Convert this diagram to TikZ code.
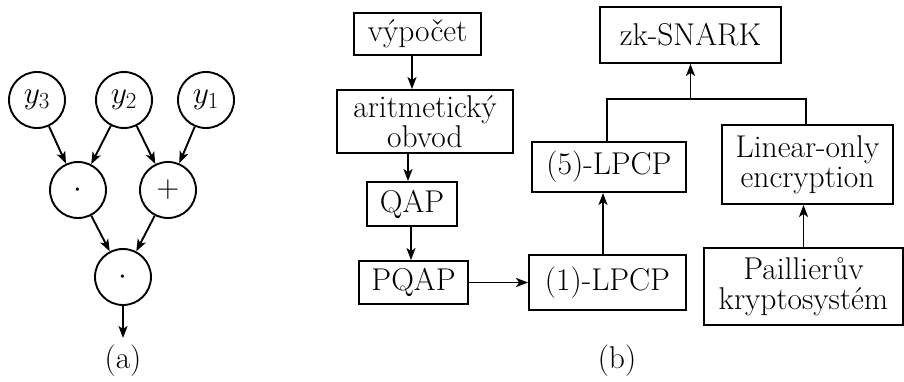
\RequirePackage{fix-cm}
\documentclass[tikz,border=0pt]{standalone}
\usetikzlibrary{arrows.meta}
\DeclareMathSizes{31.5}{31.5}{23}{17}
\begin{document}
\begin{tikzpicture}[x=1pt,y=-1pt,line width=1.9pt,
  every node/.style={font=\fontsize{31.5}{30}\selectfont},
  circ/.style={draw,circle,minimum size=56pt,inner sep=0pt},
  box/.style={draw,rectangle,inner sep=0pt,align=center},
  arr/.style={-{Stealth[length=12pt,width=9pt,inset=3pt]}}]
\useasboundingbox (0,0) rectangle (904,381);
% (a)
\node[circ] (y3) at (37,100) {$y_3$};
\node[circ] (y2) at (124,100) {$y_2$};
\node[circ] (y1) at (206,100) {$y_1$};
\node[circ] (m1) at (78,190) {$\cdot$};
\node[circ] (p) at (168,190) {$+$};
\node[circ] (m2) at (123,277) {$\cdot$};
\coordinate (out) at (123,338);
\draw[arr] (y3) -- (m1);
\draw[arr] (y2) -- (m1);
\draw[arr] (y2) -- (p);
\draw[arr] (y1) -- (p);
\draw[arr] (m1) -- (m2);
\draw[arr] (p) -- (m2);
\draw[arr] (m2) -- (out);
\node (la) at (123,361) {(a)};
% (b)
\node[box,minimum width=127pt,minimum height=42pt] (vyp) at (417.5,34) {výpočet};
\node[box,minimum width=176pt,minimum height=63pt] (ar) at (425,121.5) {aritmetický\\obvod};
\node[box,minimum width=90pt,minimum height=44pt] (qap) at (412,204) {QAP};
\node[box,minimum width=109pt,minimum height=43pt] (pqap) at (413.5,282.5) {PQAP};
\node[box,minimum width=157pt,minimum height=55pt] (l1) at (607.5,282.5) {(1)-LPCP};
\node[box,minimum width=154pt,minimum height=50pt] (l5) at (609,167) {(5)-LPCP};
\node[box,minimum width=181pt,minimum height=56pt] (zk) at (690.5,35) {zk-SNARK};
\node[box,minimum width=171pt,minimum height=79pt] (lin) at (807.5,164.5) {Linear-only\\encryption};
\node[box,minimum width=199pt,minimum height=77pt] (pail) at (803.5,286.5) {Paillierův\\kryptosystém};
\coordinate (j) at (690.5,99);
\draw[arr] ([xshift=-5.5pt]vyp.south) -- ([xshift=-5.5pt]vyp.south |- ar.north);
\draw[arr] ([xshift=-17pt]ar.south) -- ([xshift=-17pt]ar.south |- qap.north);
\draw[arr] ([xshift=-1pt]qap.south) -- ([xshift=-1pt]qap.south |- pqap.north);
\draw[arr] (pqap) -- (l1);
\draw[arr] ([xshift=-4.5pt]l1.north) -- ([xshift=-4.5pt]l1.north |- l5.south);
\draw ([xshift=-2pt]l5.north) |- (j) -| ([xshift=-1.5pt]lin.north);
\draw[arr] (j) -- (zk.south);
\draw[arr] (pail.north) -- (pail.north |- lin.south);
\node (lb) at (617,361) {(b)};
\end{tikzpicture}
\end{document}
